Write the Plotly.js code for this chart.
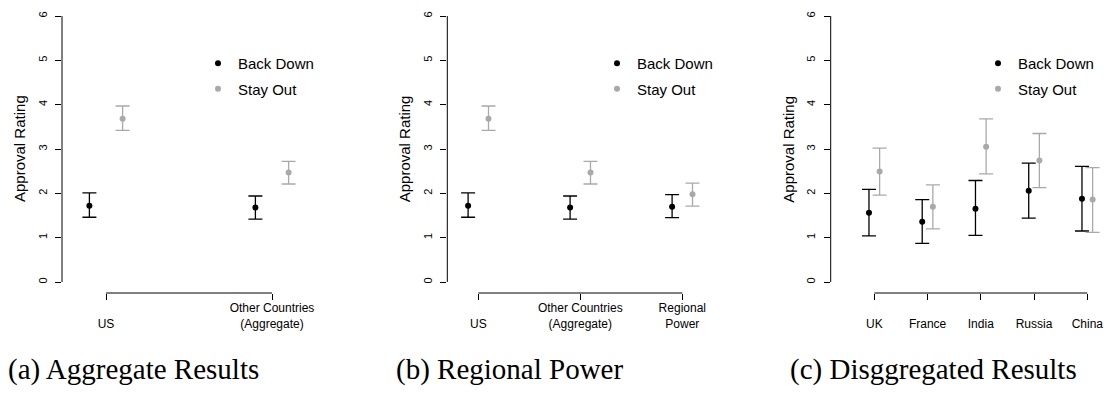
<!DOCTYPE html>
<html>
<head>
<meta charset="utf-8">
<script src="https://cdn.plot.ly/plotly-3.0.1.min.js"></script>
<style>html,body{margin:0;padding:0;background:#fff}#chart{width:1104px;height:397px}</style>
</head>
<body>
<div id="chart"></div>
<script>
// ---------- data ----------
const catsA = ["US", "Other Countries\n(Aggregate)"];
const backA = [1.72, 1.68];
const backA_lo = [1.46, 1.42];
const backA_hi = [2.01, 1.94];
const stayA = [3.68, 2.47];
const stayA_lo = [3.42, 2.21];
const stayA_hi = [3.97, 2.72];

const catsB = ["US", "Other Countries\n(Aggregate)", "Regional\nPower"];
const backB = [1.72, 1.68, 1.70];
const backB_lo = [1.46, 1.42, 1.45];
const backB_hi = [2.01, 1.94, 1.97];
const stayB = [3.68, 2.47, 1.98];
const stayB_lo = [3.42, 2.21, 1.71];
const stayB_hi = [3.97, 2.72, 2.23];

const catsC = ["UK", "France", "India", "Russia", "China"];
const backC = [1.56, 1.36, 1.65, 2.06, 1.88];
const backC_lo = [1.04, 0.87, 1.05, 1.44, 1.15];
const backC_hi = [2.09, 1.86, 2.29, 2.68, 2.61];
const stayC = [2.49, 1.70, 3.05, 2.74, 1.86];
const stayC_lo = [1.96, 1.20, 2.44, 2.13, 1.12];
const stayC_hi = [3.02, 2.19, 3.68, 3.35, 2.58];

const yTicks = [0, 1, 2, 3, 4, 5, 6];
const seriesNames = ["Back Down", "Stay Out"];
const captions = ["(a) Aggregate Results", "(b) Regional Power", "(c) Disggregated Results"];
const yTitle = "Approval Rating";

// ---------- layout geometry ----------
const W = 1104, H = 397;
const OFF = 0.1;
const COL_BACK = "#000000", COL_STAY = "#a9a9a9";
const SANS = "Liberation Sans, Arial, Helvetica, sans-serif";
const SERIF = "Liberation Serif, Times New Roman, serif";

function xGeom(left, first, step, right) {
  return { domain: [left / W, right / W], range: [1 - (first - left) / step, 1 + (right - first) / step] };
}
const yTopPx = 5, yBotPx = 293, y0Px = 282, y6Px = 16;
const yStep = (y0Px - y6Px) / 6;
const yDomain = [(H - yBotPx) / H, (H - yTopPx) / H];
const yRange = [-(yBotPx - y0Px) / yStep, 6 + (y6Px - yTopPx) / yStep];

const panels = [
  { k: "",  cats: catsA, back: [backA, backA_lo, backA_hi], stay: [stayA, stayA_lo, stayA_hi],
    g: xGeom(62, 106, 166, 360), legX: 198, capX: 6 },
  { k: "2", cats: catsB, back: [backB, backB_lo, backB_hi], stay: [stayB, stayB_lo, stayB_hi],
    g: xGeom(447.3, 478.3, 102, 730), legX: 597, capX: 394 },
  { k: "3", cats: catsC, back: [backC, backC_lo, backC_hi], stay: [stayC, stayC_lo, stayC_hi],
    g: xGeom(830.7, 874.3, 53.25, 1104), legX: 978, capX: 788 }
];

function tickText(label) {
  const lines = label.split("\n");
  if (lines.length < 2) lines.unshift("");
  return lines.join("<br>");
}

const traces = [];
const layout = {
  width: W, height: H,
  margin: { l: 0, r: 0, t: 0, b: 0, pad: 0 },
  paper_bgcolor: "#fff", plot_bgcolor: "#fff",
  font: { family: SANS, color: "#000" },
  shapes: [], annotations: []
};

panels.forEach((p, idx) => {
  const n = p.cats.length;
  const xs = p.cats.map((_, i) => i + 1);
  const legName = "legend" + p.k;
  [[p.back, -OFF, COL_BACK, seriesNames[0]], [p.stay, OFF, COL_STAY, seriesNames[1]]].forEach(([s, off, col, name]) => {
    const [m, lo, hi] = s;
    traces.push({
      type: "scatter", mode: "markers", name: name,
      legend: legName, legendgroup: name + p.k,
      x: xs.map(v => v + off), y: m,
      xaxis: "x" + p.k, yaxis: "y" + p.k,
      marker: { color: col, size: 6 },
      error_y: { type: "data", symmetric: false,
        array: m.map((v, i) => hi[i] - v), arrayminus: m.map((v, i) => v - lo[i]),
        color: col, thickness: 1.3, width: 7 },
      hoverinfo: "skip"
    });
  });
  layout["xaxis" + p.k] = {
    domain: p.g.domain, range: p.g.range, anchor: "y" + p.k,
    tickmode: "array", tickvals: xs, ticktext: p.cats.map(tickText),
    ticks: "outside", ticklen: 6, tickwidth: 1, tickcolor: "#000",
    showline: false, showgrid: false, zeroline: false,
    tickfont: { family: SANS, size: 12, color: "#000" }, tickangle: 0,
    ticklabelstandoff: -2,
    fixedrange: true
  };
  layout["yaxis" + p.k] = {
    domain: yDomain, range: yRange, anchor: "x" + p.k,
    tickmode: "array", tickvals: yTicks,
    ticks: "outside", ticklen: 6, tickwidth: 1, tickcolor: "#000",
    showline: false, showgrid: false, zeroline: false,
    tickangle: -90, ticklabelstandoff: 4,
    tickfont: { family: SANS, size: 11, color: "#000" },
    fixedrange: true
  };
  layout[legName] = {
    x: p.legX / W, xanchor: "left", y: (H - 47) / H, yanchor: "top",
    bgcolor: "rgba(0,0,0,0)", borderwidth: 0,
    font: { family: SANS, size: 15, color: "#000" },
    tracegroupgap: 3, itemclick: false, itemdoubleclick: false
  };
  // R-style axis lines spanning only the ticks
  layout.shapes.push({ type: "line", xref: "x" + p.k + " domain", yref: "y" + p.k,
    x0: 0, x1: 0, y0: yTicks[0], y1: yTicks[yTicks.length - 1], line: { color: "#000", width: 1 } });
  layout.shapes.push({ type: "line", xref: "x" + p.k, yref: "y" + p.k + " domain",
    x0: xs[0], x1: xs[n - 1], y0: 0, y1: 0, line: { color: "#000", width: 1 } });
  // y axis title
  layout.annotations.push({ xref: "x" + p.k + " domain", yref: "y" + p.k, x: 0, xshift: -42, y: 3,
    text: yTitle, textangle: -90, showarrow: false, xanchor: "center", yanchor: "middle",
    font: { family: SANS, size: 15, color: "#000" } });
  // caption
  layout.annotations.push({ xref: "paper", yref: "paper", x: p.capX / W, y: (H - 369) / H,
    text: captions[idx], showarrow: false, xanchor: "left", yanchor: "middle",
    font: { family: SERIF, size: 29, color: "#000" } });
});

Plotly.newPlot("chart", traces, layout, { staticPlot: true, displayModeBar: false });
</script>
</body>
</html>
